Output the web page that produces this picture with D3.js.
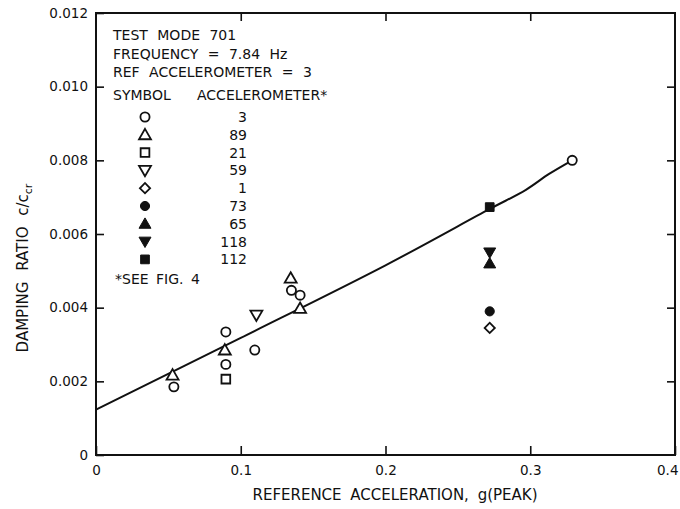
<!DOCTYPE html>
<html>
<head>
<meta charset="utf-8">
<script src="https://cdn.jsdelivr.net/npm/d3@7"></script>
<style>
  html, body { margin: 0; padding: 0; background: #fff; }
  svg { display: block; }
  text { font-family: "DejaVu Sans", sans-serif; fill: #111; }
</style>
</head>
<body>
<div id="chart"></div>
<script>
// Damping ratio versus reference acceleration, test mode 701
const xTicks = [0, 0.1, 0.2, 0.3, 0.4];
const yTicks = [0, 0.002, 0.004, 0.006, 0.008, 0.010, 0.012];
const xTickLabels = ["0", "0.1", "0.2", "0.3", "0.4"];
const yTickLabels = ["0", "0.002", "0.004", "0.006", "0.008", "0.010", "0.012"];

const accelerometers = ["3", "89", "21", "59", "1", "73", "65", "118", "112"];

// [reference acceleration g, damping ratio] per accelerometer
const acc3   = [[0.0538, 0.00185], [0.0897, 0.00334], [0.0897, 0.00246], [0.1097, 0.00285],
                [0.135, 0.00447], [0.141, 0.00434], [0.329, 0.0080]];
const acc89  = [[0.0529, 0.00217], [0.089, 0.00285], [0.1345, 0.0048], [0.141, 0.00398]];
const acc21  = [[0.0897, 0.00206]];
const acc59  = [[0.1108, 0.0038]];
const acc1   = [[0.272, 0.00345]];
const acc73  = [[0.272, 0.0039]];
const acc65  = [[0.272, 0.0052]];
const acc118 = [[0.272, 0.0055]];
const acc112 = [[0.272, 0.00673]];

// Faired curve through the data
const fairing = [[0, 0.00123], [0.1, 0.00318], [0.2, 0.00515], [0.272, 0.00668],
                 [0.297, 0.0072], [0.313, 0.00763], [0.329, 0.0080]];

const headerLines = ["TEST MODE 701", "FREQUENCY = 7.84 Hz", "REF ACCELEROMETER = 3"];

const seriesData = [acc3, acc89, acc21, acc59, acc1, acc73, acc65, acc118, acc112];
const markerStyle = [
  { shape: "circle",   filled: false },
  { shape: "triUp",    filled: false },
  { shape: "square",   filled: false },
  { shape: "triDown",  filled: false },
  { shape: "diamond",  filled: false },
  { shape: "circle",   filled: true },
  { shape: "triUp",    filled: true },
  { shape: "triDown",  filled: true },
  { shape: "square",   filled: true }
];

const W = 680, H = 509;
const svg = d3.select("#chart").append("svg").attr("width", W).attr("height", H);

const x = d3.scaleLinear().domain([0, 0.4]).range([96, 675]);
const y = d3.scaleLinear().domain([0, 0.012]).range([455, 13]);

const ink = "#111";

function symbolPath(shape) {
  if (shape === "circle") return d3.symbol(d3.symbolCircle, 66)();
  if (shape === "triUp" || shape === "triDown") return d3.symbol(d3.symbolTriangle, 62)();
  if (shape === "square") return d3.symbol(d3.symbolSquare, 76)();
  if (shape === "diamond") return d3.symbol(d3.symbolSquare, 52)();
}
function symbolRotate(shape) {
  if (shape === "triDown") return 180;
  if (shape === "diamond") return 45;
  return 0;
}
function drawMarker(g, shape, filled, px, py) {
  const offset = shape === "triUp" ? 1 : shape === "triDown" ? -1 : 0;
  g.append("path")
    .attr("d", symbolPath(shape))
    .attr("transform", `translate(${px},${py + offset}) rotate(${symbolRotate(shape)})`)
    .attr("fill", filled ? ink : "#fff")
    .attr("stroke", ink)
    .attr("stroke-width", filled ? 1 : 1.8)
    .attr("stroke-linejoin", "miter");
}

// Frame
svg.append("rect")
  .attr("x", x(0)).attr("y", y(0.012))
  .attr("width", x(0.4) - x(0)).attr("height", y(0) - y(0.012))
  .attr("fill", "none").attr("stroke", ink).attr("stroke-width", 2);

// Inward ticks, all four sides
const axisLeft = d3.axisLeft(y).tickValues(yTicks).tickSize(-8).tickFormat((d, i) => yTickLabels[i]).tickPadding(8);
svg.append("g").attr("transform", `translate(${x(0)},0)`).call(axisLeft);
const axisBottom = d3.axisBottom(x).tickValues(xTicks).tickSize(-9).tickFormat((d, i) => xTickLabels[i]).tickPadding(10);
const gx = svg.append("g").attr("transform", `translate(0,${y(0)})`).call(axisBottom);
const axisTop = d3.axisTop(x).tickValues(xTicks.slice(1, 4)).tickSize(-8).tickFormat("");
svg.append("g").attr("transform", `translate(0,${y(0.012)})`).call(axisTop);
const axisRight = d3.axisRight(y).tickValues(yTicks.slice(1, 6)).tickSize(-8).tickFormat("");
svg.append("g").attr("transform", `translate(${x(0.4)},0)`).call(axisRight);

svg.selectAll(".domain").remove();
svg.selectAll(".tick line").attr("stroke", ink).attr("stroke-width", 1.6);
svg.selectAll(".tick text").style("font-size", "13.5px").attr("fill", ink)
  .style("font-family", "'DejaVu Sans', sans-serif");
// last bottom label sits against the right edge
gx.selectAll(".tick text").filter(d => d === 0.4).attr("text-anchor", "end").attr("dx", 3);

// Axis titles
svg.append("text")
  .attr("x", 395).attr("y", 500)
  .attr("text-anchor", "middle")
  .style("font-size", "15px")
  .style("word-spacing", "4px")
  .text("REFERENCE ACCELERATION, g(PEAK)");

const yTitle = svg.append("text")
  .attr("transform", "translate(28,268) rotate(-90)")
  .attr("text-anchor", "middle")
  .style("font-size", "15px")
  .style("word-spacing", "6px");
yTitle.append("tspan").text("DAMPING RATIO c/c");
yTitle.append("tspan").attr("dy", 4).style("font-size", "11px").text("cr");

// Faired curve
svg.append("path")
  .datum(fairing)
  .attr("fill", "none")
  .attr("stroke", ink)
  .attr("stroke-width", 2)
  .attr("d", d3.line().x(d => x(d[0])).y(d => y(d[1])).curve(d3.curveCatmullRom));

// Data markers
const gm = svg.append("g");
seriesData.forEach((pts, i) => {
  pts.forEach(p => drawMarker(gm, markerStyle[i].shape, markerStyle[i].filled, x(p[0]), y(p[1])));
});

// Key
const key = svg.append("g");
headerLines.forEach((t, i) => {
  key.append("text").attr("x", 113).attr("y", 40 + i * 18.5)
    .style("font-size", "14px").style("word-spacing", "5px").text(t);
});
key.append("text").attr("x", 113).attr("y", 100).style("font-size", "14px").text("SYMBOL");
key.append("text").attr("x", 197).attr("y", 100).style("font-size", "14px").text("ACCELEROMETER*");
accelerometers.forEach((a, i) => {
  const cy = 117 + i * 17.8;
  drawMarker(key, markerStyle[i].shape, markerStyle[i].filled, 145, cy);
  key.append("text").attr("x", 247).attr("y", cy + 5)
    .attr("text-anchor", "end").style("font-size", "14px").text(a);
});
key.append("text").attr("x", 115).attr("y", 284).style("font-size", "14px").style("word-spacing", "3px").text("*SEE FIG. 4");
</script>
</body>
</html>
